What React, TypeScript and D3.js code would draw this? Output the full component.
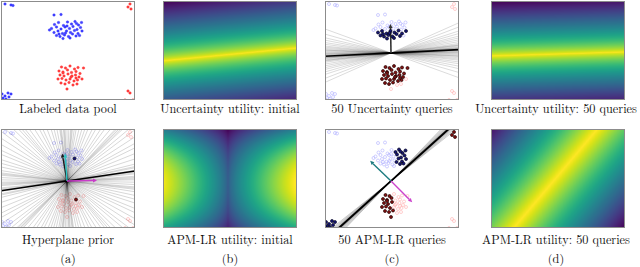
import React, { useMemo } from 'react';
import * as d3 from 'd3';

const W = 640;
const H = 267;
const PW = 134;
const PH = 99;
const colX = [1, 163, 325, 491];
const rowY = [1, 129];
const labelX = [68, 230, 392, 556];

const xDomain = [-6.6, 6.8];
const yDomain = [-4.7, 5.2];

// ---- pool data (data units) ----
const blueCluster: [number, number][] = [
  [-1.25, 2.85], [-0.85, 3.05], [-0.35, 2.75], [0.05, 3.1], [0.45, 2.9], [0.8, 3.15], [1.15, 2.8], [1.45, 3.05],
  [-1.55, 2.45], [-1.05, 2.6], [-0.6, 2.4], [-0.2, 2.6], [0.25, 2.45], [0.6, 2.65], [1.0, 2.35], [1.35, 2.55],
  [-1.3, 2.05], [-0.9, 2.2], [-0.45, 1.95], [-0.05, 2.2], [0.35, 2.05], [0.75, 2.25], [1.1, 1.95], [1.5, 2.2],
  [-1.05, 1.75], [-0.7, 1.65], [-0.25, 1.8], [0.15, 1.65], [0.55, 1.9], [0.9, 1.7], [-0.4, 1.45], [0.3, 1.5],
  [-1.75, 2.3], [0.0, 2.7], [0.95, 2.95], [-0.15, 2.0], [1.25, 1.75], [-0.8, 1.9], [-1.3, 3.8], [-0.6, 3.85],
];
const blueCorners: [number, number][] = [
  [-6.2, 4.9], [-5.6, 4.8], [-5.4, 4.75],
  [-6.5, -4.1], [-6.2, -4.3], [-5.9, -4.0], [-5.6, -4.1], [-6.4, -4.5], [-6.1, -4.6], [-5.8, -4.4], [-6.55, -4.65],
];
const redCluster: [number, number][] = [
  [-0.55, -1.4], [-0.15, -1.5], [0.3, -1.3], [0.75, -1.6], [1.1, -1.45], [1.65, -1.5],
  [-0.8, -1.8], [-0.4, -1.9], [0.05, -1.7], [0.45, -1.95], [0.9, -1.85], [1.3, -2.05],
  [-0.7, -2.2], [-0.3, -2.3], [0.1, -2.1], [0.5, -2.3], [0.85, -2.2], [1.2, -2.4],
  [-0.9, -2.6], [-0.5, -2.55], [-0.1, -2.7], [0.3, -2.6], [0.7, -2.8], [1.05, -2.7], [1.5, -2.6],
  [-0.6, -3.0], [-0.2, -3.1], [0.2, -2.95], [0.6, -3.2], [1.0, -3.1],
  [0.0, -3.6], [0.4, -2.4], [-0.4, -2.0], [0.9, -2.5],
];
const redCorners: [number, number][] = [
  [6.3, 4.9], [6.1, 4.6], [6.4, 4.4],
  [6.1, -3.8], [6.3, -4.0], [5.8, -4.7], [6.6, -4.7],
];

// queried indices
const priorQueryBlue = [21];
const priorQueryRed = [10];
const uncQueryBlue = [16, 17, 18, 19, 20, 21, 22, 23, 24, 25, 26, 27, 28, 29, 30, 31, 35, 37];
const uncQueryRed = [0, 1, 2, 3, 4, 5, 6, 7, 8, 9, 10, 11, 12, 13, 14, 15, 16, 17, 18, 19, 20, 21, 22, 23, 25, 26, 27, 31, 32, 33];
const apmQueryBlue = [4, 5, 6, 7, 13, 14, 15, 21, 22, 23, 28, 29, 34, 36];
const apmQueryBlueCorners = [3, 4, 5, 6, 7, 8, 9, 10];
const apmQueryRed = [0, 1, 6, 7, 8, 12, 13, 14, 18, 19, 20, 25, 26, 27, 30, 32];
const apmQueryRedCorners = [0, 1, 2];

// hyperplane angles (degrees)
const priorAngles = [1, 4, 6, 9, 11, 14, 18, 22, 26, 29, 33, 37, 40, 43, 45, 47, 50, 54, 57, 61, 64, 68, 71, 74, 77, 80, 82, 84, 86, 88, 90, 92, 94, 96, 98, 101, 104, 107, 111, 115, 118, 122, 126, 129, 133, 136, 140, 143, 147, 151, 155, 158, 162, 165, 168, 171, 173, 175, 177, 179, 3, 7, 12, 44, 46, 85, 93, 97, 131, 174, 2, 8];
const uncertAngles = [-20, -16, -13, -11, -9, -7.5, -6, -5, -4, -3, -2, -1.2, -0.5, 0.3, 1, 1.6, 2.2, 2.8, 3.3, 3.9, 4.5, 5.2, 6, 7, 8, 9.5, 11, 12.5, 14, 16, 18, 21, 24, 0.8, 2.5, 4.2, -2.5, 6.5];
const apmAngles = [38.5, 39.3, 40, 40.6, 41, 41.4, 41.7, 42, 42.2, 42.5, 42.8, 43.1, 43.5, 44, 44.6, 45.3, 46, 41.8, 42.1, 42.4, 41.5, 42.7];
const meanAngles = { prior: 8.4, uncert: 2.8, apm: 42 };

// arrows: [angle deg, length]
const priorArrows = { black: [100, 2.8], cyan: [94, 2.75], magenta: [1, 3.0] };
const uncArrow = [91, 2.9];
const apmArrows = { teal: [136, 2.9], magenta: [-45, 3.0] };

// utility fields
const uncInitField = [5.5, -0.15, 6.0, 0.75];
const uncFinalField = [1.7, -0.1, 5.4, 0.75];
const apmFinalField = [49.8, 0.27, 8.3, 1.0];
const apmInitField = [-0.1, -0.2, 6.7, 5.3, 0.28, 0.4, 0.75];

const titles = [
  ['Labeled data pool', 'Uncertainty utility: initial', '50 Uncertainty queries', 'Uncertainty utility: 50 queries'],
  ['Hyperplane prior', 'APM-LR utility: initial', '50 APM-LR queries', 'APM-LR utility: 50 queries'],
];
const subLabels = ['(a)', '(b)', '(c)', '(d)'];

const xs = d3.scaleLinear().domain(xDomain).range([0, PW]);
const ys = d3.scaleLinear().domain(yDomain).range([PH, 0]);

function lineField(p: number[]) {
  const [ang, off, s, pw] = p;
  const a = (ang * Math.PI) / 180;
  const nx = -Math.sin(a), ny = Math.cos(a);
  return (x: number, y: number) => {
    const d = Math.abs(x * nx + y * ny - off);
    return 1 - Math.pow(Math.min(1.2, d / s), pw);
  };
}
function apmInit(p: number[]) {
  const [x0, y0, sx, sy, c, k, e] = p;
  return (x: number, y: number) => {
    const u = Math.pow(Math.min(1, Math.abs(x - x0) / sx), e);
    const w = (y - y0) / sy;
    return c * (1 - w * w) + (1 - c) * u * (1 - k * w * w);
  };
}

function heatUrl(f: (x: number, y: number) => number): string {
  const S = 2;
  const cw = PW * S, ch = PH * S;
  const canvas = document.createElement('canvas');
  canvas.width = cw;
  canvas.height = ch;
  const ctx = canvas.getContext('2d');
  if (!ctx) return '';
  const vals: number[] = [];
  for (let j = 0; j < ch; j++) {
    for (let i = 0; i < cw; i++) {
      vals.push(f(xs.invert((i + 0.5) / S), ys.invert((j + 0.5) / S)));
    }
  }
  const [mn, mx] = d3.extent(vals) as [number, number];
  const cs = d3.scaleSequential(d3.interpolateViridis).domain([mn, mx]);
  const img = ctx.createImageData(cw, ch);
  vals.forEach((v, k) => {
    const c = d3.rgb(cs(v));
    img.data[k * 4] = c.r;
    img.data[k * 4 + 1] = c.g;
    img.data[k * 4 + 2] = c.b;
    img.data[k * 4 + 3] = 255;
  });
  ctx.putImageData(img, 0, 0);
  return canvas.toDataURL();
}

const FONT = "'Latin Modern Roman','CMU Serif','Liberation Serif','Times New Roman',serif";

function Frame({ x, y }: { x: number; y: number }) {
  return <rect x={x + 0.5} y={y + 0.5} width={PW - 1} height={PH - 1} fill="none" stroke="#8c8c8c" strokeWidth={1} />;
}

function Lines({ angles, opacity, width, color }: { angles: number[]; opacity: number; width: number; color: string }) {
  return (
    <g>
      {angles.map((a, i) => {
        const r = (a * Math.PI) / 180;
        const L = 20;
        return (
          <line key={i} x1={xs(-L * Math.cos(r))} y1={ys(-L * Math.sin(r))} x2={xs(L * Math.cos(r))} y2={ys(L * Math.sin(r))}
            stroke={color} strokeOpacity={opacity} strokeWidth={width} />
        );
      })}
    </g>
  );
}

function Arrow({ spec, color, width }: { spec: number[]; color: string; width: number }) {
  const [ang, len] = spec;
  const r = (ang * Math.PI) / 180;
  const x0 = xs(0), y0 = ys(0);
  const x1 = xs(len * Math.cos(r)), y1 = ys(len * Math.sin(r));
  const dx = x1 - x0, dy = y1 - y0;
  const l = Math.hypot(dx, dy);
  const ux = dx / l, uy = dy / l;
  const hl = 4, hw = 2;
  const bx = x1 - ux * hl, by = y1 - uy * hl;
  const pts = [[x1, y1], [bx - uy * hw, by + ux * hw], [bx + uy * hw, by - ux * hw]];
  return (
    <g>
      <line x1={x0} y1={y0} x2={bx} y2={by} stroke={color} strokeWidth={width} />
      <polygon points={pts.map((p) => p.join(',')).join(' ')} fill={color} />
    </g>
  );
}

function Dots({ pts, fill, stroke, r, sw, op }: { pts: [number, number][]; fill: string; stroke: string; r: number; sw: number; op?: number }) {
  return (
    <g opacity={op ?? 1}>
      {pts.map((p, i) => (
        <circle key={i} cx={xs(p[0])} cy={ys(p[1])} r={r} fill={fill} stroke={stroke} strokeWidth={sw} />
      ))}
    </g>
  );
}

const allBlue = [...blueCluster, ...blueCorners];
const allRed = [...redCluster, ...redCorners];

function HollowPool() {
  return (
    <g>
      <Dots pts={allBlue} fill="none" stroke="#8f8fff" r={1.5} sw={0.6} op={0.7} />
      <Dots pts={allRed} fill="none" stroke="#ff8f8f" r={1.5} sw={0.6} op={0.7} />
    </g>
  );
}

function Queried({ blue, red }: { blue: [number, number][]; red: [number, number][] }) {
  return (
    <g>
      <Dots pts={blue} fill="#16167a" stroke="#000" r={1.5} sw={0.6} />
      <Dots pts={red} fill="#8a1010" stroke="#000" r={1.5} sw={0.6} />
    </g>
  );
}

function Panel({ col, row, id, children }: { col: number; row: number; id: string; children: React.ReactNode }) {
  const x = colX[col], y = rowY[row];
  return (
    <g>
      <clipPath id={id}>
        <rect x={0} y={0} width={PW} height={PH} />
      </clipPath>
      <g transform={`translate(${x},${y})`}>
        <rect x={0} y={0} width={PW} height={PH} fill="#fff" />
        <g clipPath={`url(#${id})`}>{children}</g>
      </g>
      <Frame x={x} y={y} />
    </g>
  );
}

export default function App() {
  const heat = useMemo(() => ({
    uncInit: heatUrl(lineField(uncInitField)),
    uncFinal: heatUrl(lineField(uncFinalField)),
    apmInit: heatUrl(apmInit(apmInitField)),
    apmFinal: heatUrl(lineField(apmFinalField)),
  }), []);

  const pick = (arr: [number, number][], idx: number[]) => idx.map((i) => arr[i]);

  return (
    <svg width={W} height={H} style={{ position: 'fixed', left: 0, top: 0, background: '#fff' }} fontFamily={FONT}>
      <Panel col={0} row={0} id="c0">
        <Dots pts={allBlue} fill="#2020ff" stroke="#0000ff" r={1.3} sw={0.3} op={0.85} />
        <Dots pts={allRed} fill="#ff2020" stroke="#ff0000" r={1.3} sw={0.3} op={0.85} />
      </Panel>
      <Panel col={1} row={0} id="c1">
        <image href={heat.uncInit} x={0} y={0} width={PW} height={PH} preserveAspectRatio="none" />
      </Panel>
      <Panel col={2} row={0} id="c2">
        <HollowPool />
        <Lines angles={uncertAngles} opacity={0.18} width={0.8} color="#000" />
        <Lines angles={[meanAngles.uncert]} opacity={1} width={1.6} color="#000" />
        <Arrow spec={uncArrow} color="#333" width={1.6} />
        <Queried blue={pick(blueCluster, uncQueryBlue)} red={pick(redCluster, uncQueryRed)} />
      </Panel>
      <Panel col={3} row={0} id="c3">
        <image href={heat.uncFinal} x={0} y={0} width={PW} height={PH} preserveAspectRatio="none" />
      </Panel>
      <Panel col={0} row={1} id="c4">
        <HollowPool />
        <Lines angles={priorAngles} opacity={0.2} width={0.8} color="#000" />
        <Lines angles={[meanAngles.prior]} opacity={1} width={1.6} color="#000" />
        <Arrow spec={priorArrows.black} color="#1a1a1a" width={1.4} />
        <Arrow spec={priorArrows.cyan} color="#2ec4c4" width={1.4} />
        <Arrow spec={priorArrows.magenta} color="#c83cc8" width={1.4} />
        <Queried blue={pick(blueCluster, priorQueryBlue)} red={pick(redCluster, priorQueryRed)} />
      </Panel>
      <Panel col={1} row={1} id="c5">
        <image href={heat.apmInit} x={0} y={0} width={PW} height={PH} preserveAspectRatio="none" />
      </Panel>
      <Panel col={2} row={1} id="c6">
        <HollowPool />
        <Lines angles={apmAngles} opacity={0.2} width={1} color="#000" />
        <Lines angles={[meanAngles.apm]} opacity={1} width={1.8} color="#000" />
        <Arrow spec={apmArrows.teal} color="#1d7c80" width={1.4} />
        <Arrow spec={apmArrows.magenta} color="#cc44cc" width={1.4} />
        <Queried
          blue={[...pick(blueCluster, apmQueryBlue), ...pick(blueCorners, apmQueryBlueCorners)]}
          red={[...pick(redCluster, apmQueryRed), ...pick(redCorners, apmQueryRedCorners)]}
        />
      </Panel>
      <Panel col={3} row={1} id="c7">
        <image href={heat.apmFinal} x={0} y={0} width={PW} height={PH} preserveAspectRatio="none" />
      </Panel>

      {titles.map((row, r) =>
        row.map((t, c) => (
          <text key={`${r}-${c}`} x={labelX[c]} y={r === 0 ? 113 : 244} textAnchor="middle" fontSize={12.3} fill="#111">
            {t}
          </text>
        ))
      )}
      {subLabels.map((t, c) => (
        <text key={t} x={labelX[c]} y={263} textAnchor="middle" fontSize={12.3} fill="#111">
          {t}
        </text>
      ))}
    </svg>
  );
}
